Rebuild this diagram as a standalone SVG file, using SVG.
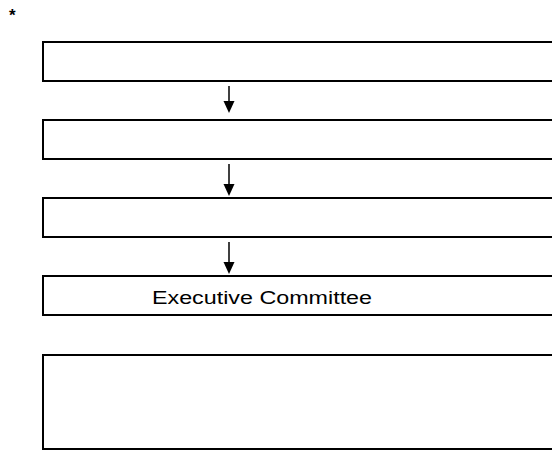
<svg xmlns="http://www.w3.org/2000/svg" width="552" height="451" viewBox="0 0 552 451">
<style>
.box{fill:#fff;stroke:#000;stroke-width:2}
.arr{stroke:#000;stroke-width:1.5;fill:none}
.head{fill:#000}
text{font-family:"Liberation Sans",Arial,sans-serif;fill:#000}
</style>
<rect width="552" height="451" fill="#fff"/>
<text x="9" y="21" font-size="17" font-weight="bold">*</text>
<g id="box1"><rect class="box" x="43" y="42" width="520" height="39"/></g>
<g id="box2"><rect class="box" x="43" y="120" width="520" height="39"/></g>
<g id="box3"><rect class="box" x="43" y="198" width="520" height="39"/></g>
<g id="box4"><rect class="box" x="43" y="276" width="520" height="39"/><text x="152" y="304" font-size="18" textLength="220" lengthAdjust="spacingAndGlyphs">Executive Committee</text></g>
<g id="box5"><rect class="box" x="43" y="355" width="520" height="94"/></g>
<g id="connectors">
<line class="arr" x1="229" y1="86" x2="229" y2="103"/><polygon class="head" points="223.5,101 234.5,101 229,113"/>
<line class="arr" x1="229" y1="164" x2="229" y2="186"/><polygon class="head" points="223.5,184 234.5,184 229,196"/>
<line class="arr" x1="229" y1="242" x2="229" y2="264"/><polygon class="head" points="223.5,262 234.5,262 229,274"/>
</g>
</svg>
